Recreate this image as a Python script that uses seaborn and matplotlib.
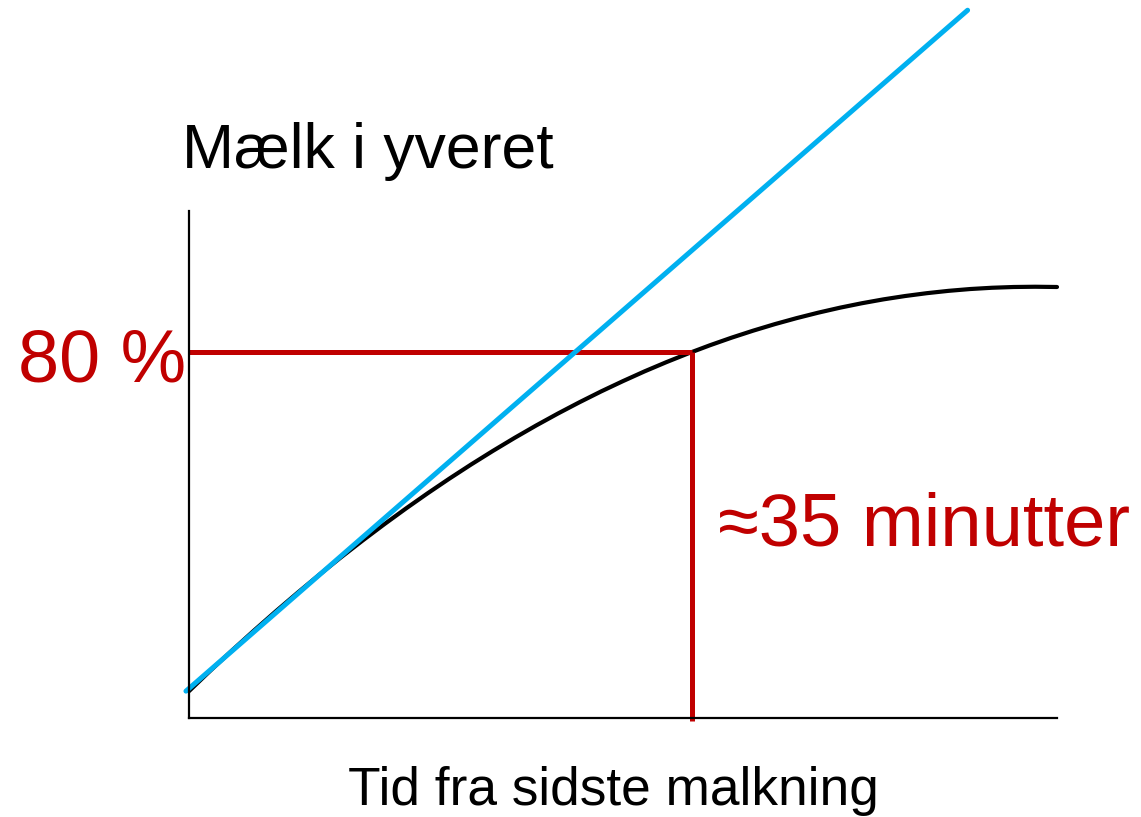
import matplotlib
matplotlib.use("Agg")
import matplotlib.pyplot as plt
import seaborn as sns
import pandas as pd

# Data (x: relative time 0-100, y: milk in udder 0-100)
curve_x = [0, 2.5, 5, 7.5, 10, 12.5, 15, 17.5, 20, 22.5, 25, 27.5, 30, 32.5, 35, 37.5, 40,
           42.5, 45, 47.5, 50, 52.5, 55, 57.5, 60, 62.5, 65, 67.5, 70, 72.5, 75, 77.5, 80,
           82.5, 85, 87.5, 90, 92.5, 95, 97.5, 100]
curve_y = [5.30, 9.40, 13.39, 17.27, 21.04, 24.69, 28.24, 31.68, 35.00, 38.22, 41.33, 44.33,
           47.22, 50.00, 52.67, 55.24, 57.70, 60.05, 62.29, 64.43, 66.45, 68.38, 70.19, 71.90,
           73.51, 75.01, 76.40, 77.69, 78.87, 79.95, 80.93, 81.80, 82.57, 83.23, 83.79, 84.25,
           84.61, 84.86, 85.01, 85.06, 85.01]
tangent_x = [-0.35, 89.7]
tangent_y = [5.3, 139.6]
level_80 = 72.2
time_35 = 57.9

sns.set_style("white")
plt.rcParams['font.family'] = ['Liberation Sans', 'DejaVu Sans']

W, H = 1141, 817
fig = plt.figure(figsize=(W / 100, H / 100), dpi=100)
ax = fig.add_axes([189 / W, 1 - 718 / H, (1057 - 189) / W, (718 - 211) / H])

df_curve = pd.DataFrame({"x": curve_x, "y": curve_y})
df_tan = pd.DataFrame({"x": tangent_x, "y": tangent_y})

sns.lineplot(data=df_curve, x="x", y="y", ax=ax, color="black", linewidth=3.0, sort=False)
ax.plot([0, time_35], [level_80, level_80], color="#C00000", linewidth=3.6, solid_capstyle="butt", clip_on=False)
ax.plot([time_35, time_35], [level_80, -0.5], color="#C00000", linewidth=3.6, solid_capstyle="butt", clip_on=False)
sns.lineplot(data=df_tan, x="x", y="y", ax=ax, color="#00B0F0", linewidth=3.6, sort=False)
for l in ax.lines:
    l.set_clip_on(False)
    l.set_solid_joinstyle("round")

ax.set_xlim(0, 100)
ax.set_ylim(0, 100)
ax.set_xticks([])
ax.set_yticks([])
ax.set_xlabel("")
ax.set_ylabel("")
for s in ["top", "right"]:
    ax.spines[s].set_visible(False)
for s in ["left", "bottom"]:
    ax.spines[s].set_color("black")
    ax.spines[s].set_linewidth(1.6)

def px(x, y):
    return x / W, 1 - y / H

fig.text(*px(182, 168), "Mælk i yveret", fontsize=45, color="black", ha="left", va="baseline")
fig.text(*px(18, 381), "80 %", fontsize=53, color="#C00000", ha="left", va="baseline")
fig.text(*px(718, 545), "≈35 minutter", fontsize=53.5, color="#C00000", ha="left", va="baseline")
fig.text(*px(613, 805), "Tid fra sidste malkning", fontsize=38.3, color="black", ha="center", va="baseline")

fig.savefig("out.png", dpi=100)
